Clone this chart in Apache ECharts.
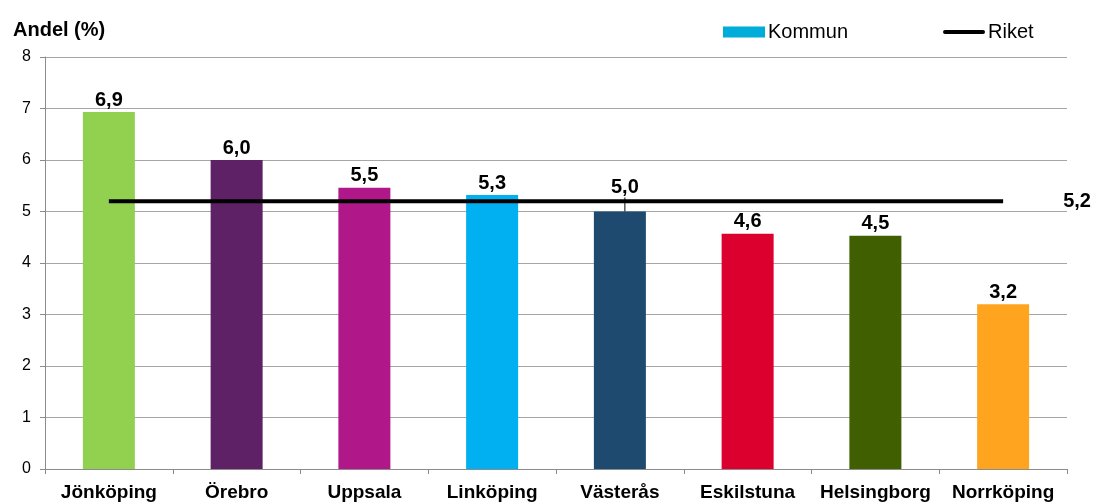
<!DOCTYPE html>
<html>
<head>
<meta charset="utf-8">
<script src="https://cdn.jsdelivr.net/npm/echarts@6/dist/echarts.min.js"></script>
<style>
  html, body { margin: 0; padding: 0; background: #fff; }
  #chart { width: 1094px; height: 502px; }
</style>
</head>
<body>
<div id="chart"></div>
<script>
// data
var categories = ['Jönköping', 'Örebro', 'Uppsala', 'Linköping', 'Västerås', 'Eskilstuna', 'Helsingborg', 'Norrköping'];
var kommunValues = [6.93, 6.0, 5.46, 5.32, 5.0, 4.57, 4.53, 3.2];
var barColors = ['#92D050', '#5E2165', '#B0188A', '#00B0F0', '#1D4A6E', '#DB002E', '#3F5F00', '#FFA41F'];
var riket = 5.2;
var riketValues = categories.map(function () { return riket; });

var fmt = function (v) { return v.toFixed(1).replace('.', ','); };

var chart = echarts.init(document.getElementById('chart'));
var font = 'Liberation Sans, Arial, sans-serif';

var option = {
    animation: false,
    textStyle: { fontFamily: font },
    title: {
        text: 'Andel (%)',
        left: 8, top: 15,
        textStyle: { fontSize: 20, fontWeight: 'bold', color: '#000', fontFamily: font }
    },
    legend: {
        left: 718, top: 17,
        itemWidth: 42, itemHeight: 11,
        itemGap: 95,
        textStyle: { fontSize: 20, color: '#000', fontFamily: font, padding: [0, 0, 0, -2] },
        data: [
            { name: 'Kommun', icon: 'rect', itemStyle: { color: '#00ADD8' } },
            { name: 'Riket', icon: 'path://M2,0 L40,0 A2,2 0 0 1 40,4 L2,4 A2,2 0 0 1 2,0 Z', itemStyle: { color: '#000' } }
        ]
    },
    grid: { left: 45, right: 27, top: 57, bottom: 32 },
    xAxis: {
        type: 'category',
        data: categories,
        axisLine: { lineStyle: { color: '#8C8C8C', width: 1 } },
        axisTick: { show: true, length: 5, lineStyle: { color: '#8C8C8C' } },
        axisLabel: { color: '#000', fontSize: 19, fontWeight: 'bold', margin: 14, fontFamily: font, interval: 0 }
    },
    yAxis: {
        type: 'value',
        min: 0, max: 8, interval: 1,
        axisLine: { show: true, lineStyle: { color: '#8C8C8C', width: 1 } },
        axisTick: { show: true, length: 5, lineStyle: { color: '#8C8C8C' } },
        axisLabel: { color: '#000', fontSize: 16, margin: 14, fontFamily: font },
        splitLine: { lineStyle: { color: '#A6A6A6', width: 1 } }
    },
    series: [
        {
            name: 'Kommun',
            type: 'bar',
            barWidth: 52,
            itemStyle: { color: '#00ADD8' },
            data: kommunValues.map(function (v, i) {
                var d = { value: v, itemStyle: { color: barColors[i] } };
                if (i === 4) {
                    d.labelLine = { show: true, lineStyle: { color: '#000', width: 1 } };
                }
                return d;
            }),
            label: {
                show: true, position: 'top', distance: 2,
                color: '#000', fontSize: 20, fontWeight: 'bold', fontFamily: font,
                formatter: function (p) { return fmt(p.value); }
            },
            labelLayout: function (p) {
                if (p.dataIndex === 4) return { dy: -12, dx: 5 };
                return {};
            },
            z: 2
        },
        {
            name: 'Riket',
            type: 'line',
            data: riketValues,
            symbol: 'none',
            lineStyle: { color: '#000', width: 4 },
            itemStyle: { color: '#000' },
            endLabel: {
                show: true,
                distance: 60,
                color: '#000', fontSize: 20, fontWeight: 'bold', fontFamily: font,
                formatter: function (p) { return fmt(p.value); }
            },
            z: 3
        }
    ]
};
chart.setOption(option);
</script>
</body>
</html>
